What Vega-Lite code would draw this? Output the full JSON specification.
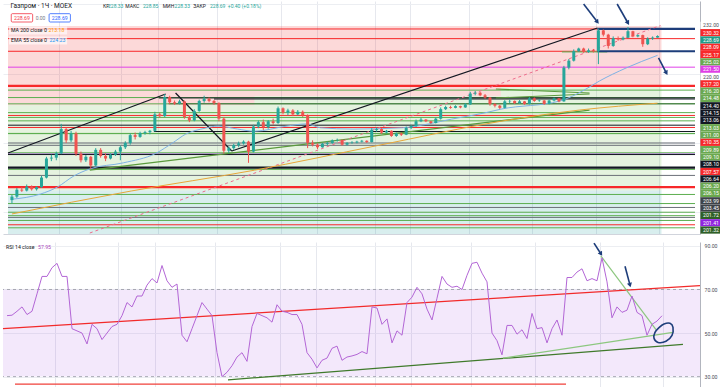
{
"$schema": "https://vega.github.io/schema/vega-lite/v6.json",
"padding": 0,
"background": "white",
"config": {"view": {"stroke": null}, "font": "Roboto"},
"spacing": 3,
"resolve": {"scale": {"color": "independent", "fill": "independent"}},
"datasets": {
"bars": [
{"i":0,"o":190.8,"h":192.0,"l":190.0,"c":191.6,"r":58},
{"i":1,"o":191.6,"h":193.6,"l":191.3,"c":193.2,"r":58.2},
{"i":2,"o":193.2,"h":193.8,"l":192.7,"c":193.0,"r":60},
{"i":3,"o":193.0,"h":194.4,"l":192.8,"c":193.9,"r":62},
{"i":4,"o":193.9,"h":194.2,"l":193.0,"c":193.3,"r":58.5},
{"i":5,"o":193.3,"h":194.0,"l":193.0,"c":193.8,"r":60},
{"i":6,"o":193.8,"h":196.4,"l":193.6,"c":196.0,"r":68},
{"i":7,"o":196.0,"h":200.8,"l":195.8,"c":200.4,"r":76},
{"i":8,"o":200.4,"h":201.3,"l":199.8,"c":200.6,"r":76},
{"i":9,"o":200.6,"h":202.0,"l":200.0,"c":201.6,"r":80},
{"i":10,"o":201.6,"h":208.4,"l":201.4,"c":207.2,"r":82},
{"i":11,"o":207.2,"h":207.6,"l":204.0,"c":204.6,"r":76},
{"i":12,"o":204.6,"h":206.8,"l":204.2,"c":206.2,"r":76},
{"i":13,"o":206.2,"h":206.6,"l":201.0,"c":201.5,"r":52},
{"i":14,"o":201.5,"h":202.0,"l":199.5,"c":200.0,"r":51},
{"i":15,"o":200.0,"h":201.2,"l":199.6,"c":200.8,"r":50},
{"i":16,"o":200.8,"h":201.0,"l":198.0,"c":198.8,"r":45},
{"i":17,"o":198.8,"h":202.8,"l":198.6,"c":202.4,"r":54},
{"i":18,"o":202.4,"h":202.8,"l":200.6,"c":201.0,"r":52},
{"i":19,"o":201.0,"h":201.6,"l":199.8,"c":200.4,"r":47},
{"i":20,"o":200.4,"h":201.6,"l":200.2,"c":201.3,"r":50},
{"i":21,"o":201.3,"h":202.4,"l":201.0,"c":202.0,"r":53},
{"i":22,"o":202.0,"h":203.4,"l":200.0,"c":203.0,"r":54},
{"i":23,"o":203.0,"h":204.4,"l":202.6,"c":204.0,"r":58},
{"i":24,"o":204.0,"h":206.2,"l":203.6,"c":205.8,"r":64},
{"i":25,"o":205.8,"h":206.4,"l":204.8,"c":205.4,"r":62},
{"i":26,"o":205.4,"h":206.6,"l":205.2,"c":206.3,"r":67},
{"i":27,"o":206.3,"h":206.8,"l":205.9,"c":206.5,"r":67},
{"i":28,"o":206.5,"h":207.0,"l":206.0,"c":206.8,"r":72},
{"i":29,"o":206.8,"h":211.2,"l":206.6,"c":210.6,"r":75},
{"i":30,"o":210.6,"h":211.0,"l":209.8,"c":210.2,"r":73},
{"i":31,"o":210.2,"h":215.3,"l":210.0,"c":214.6,"r":81},
{"i":32,"o":214.6,"h":214.9,"l":213.0,"c":213.4,"r":74},
{"i":33,"o":213.4,"h":213.8,"l":212.8,"c":213.1,"r":71},
{"i":34,"o":213.1,"h":214.0,"l":212.9,"c":213.6,"r":72.5},
{"i":35,"o":213.6,"h":213.8,"l":209.6,"c":210.0,"r":49},
{"i":36,"o":210.0,"h":210.4,"l":208.8,"c":209.2,"r":46},
{"i":37,"o":209.2,"h":211.8,"l":209.0,"c":211.4,"r":52},
{"i":38,"o":211.4,"h":214.0,"l":211.2,"c":213.7,"r":58},
{"i":39,"o":213.7,"h":214.9,"l":213.3,"c":214.2,"r":64},
{"i":40,"o":214.2,"h":214.5,"l":213.4,"c":213.7,"r":61},
{"i":41,"o":213.7,"h":213.9,"l":212.8,"c":213.2,"r":58},
{"i":42,"o":213.2,"h":213.4,"l":209.0,"c":209.6,"r":41},
{"i":43,"o":209.6,"h":210.0,"l":201.6,"c":202.2,"r":30},
{"i":44,"o":202.2,"h":203.2,"l":201.6,"c":202.8,"r":32},
{"i":45,"o":202.8,"h":203.8,"l":202.4,"c":203.5,"r":35},
{"i":46,"o":203.5,"h":204.3,"l":203.0,"c":203.9,"r":39},
{"i":47,"o":203.9,"h":204.6,"l":203.6,"c":204.3,"r":41},
{"i":48,"o":204.3,"h":204.5,"l":199.4,"c":202.0,"r":37},
{"i":49,"o":202.0,"h":208.2,"l":201.8,"c":207.8,"r":53},
{"i":50,"o":207.8,"h":209.2,"l":207.4,"c":208.8,"r":59},
{"i":51,"o":208.8,"h":209.4,"l":207.0,"c":207.6,"r":58},
{"i":52,"o":207.6,"h":209.3,"l":207.3,"c":209.0,"r":57},
{"i":53,"o":209.0,"h":209.6,"l":208.2,"c":208.6,"r":55},
{"i":54,"o":208.6,"h":212.4,"l":208.4,"c":212.0,"r":63},
{"i":55,"o":212.0,"h":212.2,"l":210.6,"c":211.0,"r":60},
{"i":56,"o":211.0,"h":211.9,"l":210.4,"c":211.5,"r":59.5},
{"i":57,"o":211.5,"h":211.8,"l":210.2,"c":210.6,"r":58.5},
{"i":58,"o":210.6,"h":211.6,"l":210.4,"c":211.2,"r":58.5},
{"i":59,"o":211.2,"h":211.5,"l":210.0,"c":210.4,"r":54},
{"i":60,"o":210.4,"h":210.6,"l":202.8,"c":204.0,"r":41},
{"i":61,"o":204.0,"h":204.6,"l":203.2,"c":203.6,"r":38},
{"i":62,"o":203.6,"h":203.9,"l":202.6,"c":203.0,"r":34},
{"i":63,"o":203.0,"h":204.0,"l":202.9,"c":203.8,"r":37.5},
{"i":64,"o":203.8,"h":204.3,"l":203.5,"c":204.0,"r":38.5},
{"i":65,"o":204.0,"h":204.8,"l":203.8,"c":204.6,"r":43},
{"i":66,"o":204.6,"h":205.0,"l":204.3,"c":204.7,"r":44},
{"i":67,"o":204.7,"h":204.8,"l":203.4,"c":203.6,"r":37.5},
{"i":68,"o":203.6,"h":204.2,"l":203.4,"c":204.0,"r":39},
{"i":69,"o":204.0,"h":204.4,"l":203.8,"c":204.1,"r":39.5},
{"i":70,"o":204.1,"h":204.5,"l":203.9,"c":204.3,"r":40.2},
{"i":71,"o":204.3,"h":204.7,"l":204.1,"c":204.5,"r":41.5},
{"i":72,"o":204.5,"h":204.6,"l":204.0,"c":204.2,"r":40.5},
{"i":73,"o":204.2,"h":207.4,"l":204.1,"c":207.0,"r":62},
{"i":74,"o":207.0,"h":207.6,"l":206.6,"c":207.2,"r":61.5},
{"i":75,"o":207.2,"h":207.4,"l":206.1,"c":206.4,"r":54},
{"i":76,"o":206.4,"h":207.0,"l":206.2,"c":206.8,"r":56.5},
{"i":77,"o":206.8,"h":206.9,"l":205.4,"c":205.6,"r":45.5},
{"i":78,"o":205.6,"h":206.4,"l":205.4,"c":206.2,"r":51},
{"i":79,"o":206.2,"h":206.4,"l":205.6,"c":205.9,"r":49},
{"i":80,"o":205.9,"h":207.8,"l":205.8,"c":207.5,"r":64},
{"i":81,"o":207.5,"h":208.2,"l":207.2,"c":207.9,"r":66.5},
{"i":82,"o":207.9,"h":209.4,"l":207.7,"c":209.0,"r":71},
{"i":83,"o":209.0,"h":209.8,"l":208.8,"c":209.4,"r":68},
{"i":84,"o":209.4,"h":209.5,"l":208.8,"c":209.0,"r":61},
{"i":85,"o":209.0,"h":209.1,"l":208.4,"c":208.6,"r":56},
{"i":86,"o":208.6,"h":209.9,"l":208.5,"c":209.6,"r":66},
{"i":87,"o":209.6,"h":212.2,"l":209.4,"c":211.8,"r":76},
{"i":88,"o":211.8,"h":212.6,"l":211.6,"c":212.3,"r":72.5},
{"i":89,"o":212.3,"h":212.6,"l":211.9,"c":212.1,"r":71},
{"i":90,"o":212.1,"h":212.7,"l":212.0,"c":212.5,"r":71.5},
{"i":91,"o":212.5,"h":212.6,"l":212.0,"c":212.2,"r":70},
{"i":92,"o":212.2,"h":213.2,"l":212.1,"c":212.9,"r":76.5},
{"i":93,"o":212.9,"h":215.8,"l":212.8,"c":215.4,"r":82},
{"i":94,"o":215.4,"h":216.0,"l":215.0,"c":215.6,"r":82.5},
{"i":95,"o":215.6,"h":215.8,"l":214.8,"c":215.0,"r":77.5},
{"i":96,"o":215.0,"h":215.3,"l":214.2,"c":214.5,"r":73.5},
{"i":97,"o":214.5,"h":214.6,"l":212.6,"c":213.0,"r":50},
{"i":98,"o":213.0,"h":213.2,"l":212.2,"c":212.6,"r":46.5},
{"i":99,"o":212.6,"h":212.8,"l":211.8,"c":212.1,"r":40},
{"i":100,"o":212.1,"h":213.9,"l":212.0,"c":213.6,"r":53.5},
{"i":101,"o":213.6,"h":214.0,"l":213.2,"c":213.7,"r":53.5},
{"i":102,"o":213.7,"h":213.8,"l":213.0,"c":213.2,"r":49.5},
{"i":103,"o":213.2,"h":213.9,"l":213.0,"c":213.6,"r":51.5},
{"i":104,"o":213.6,"h":213.7,"l":212.8,"c":213.0,"r":47.5},
{"i":105,"o":213.0,"h":214.6,"l":212.9,"c":214.3,"r":59},
{"i":106,"o":214.3,"h":214.5,"l":213.5,"c":213.7,"r":52},
{"i":107,"o":213.7,"h":214.1,"l":213.5,"c":213.8,"r":52.5},
{"i":108,"o":213.8,"h":213.9,"l":212.8,"c":213.0,"r":45.5},
{"i":109,"o":213.0,"h":214.0,"l":212.9,"c":213.8,"r":52},
{"i":110,"o":213.8,"h":214.5,"l":213.6,"c":214.3,"r":56},
{"i":111,"o":214.3,"h":214.4,"l":213.4,"c":213.6,"r":49},
{"i":112,"o":213.6,"h":221.8,"l":213.5,"c":221.4,"r":75.5},
{"i":113,"o":221.4,"h":223.4,"l":221.0,"c":223.0,"r":75.5},
{"i":114,"o":223.0,"h":225.6,"l":222.8,"c":225.2,"r":78},
{"i":115,"o":225.2,"h":226.0,"l":225.0,"c":225.8,"r":79.5},
{"i":116,"o":225.8,"h":226.0,"l":224.8,"c":225.0,"r":74},
{"i":117,"o":225.0,"h":225.8,"l":224.8,"c":225.4,"r":75},
{"i":118,"o":225.4,"h":225.7,"l":224.9,"c":225.2,"r":74},
{"i":119,"o":225.2,"h":230.4,"l":222.2,"c":230.0,"r":84.5},
{"i":120,"o":230.0,"h":230.2,"l":228.6,"c":229.0,"r":73.5},
{"i":121,"o":229.0,"h":229.2,"l":225.8,"c":226.4,"r":57},
{"i":122,"o":226.4,"h":228.6,"l":226.2,"c":228.2,"r":62},
{"i":123,"o":228.2,"h":228.6,"l":227.6,"c":227.9,"r":59.5},
{"i":124,"o":227.9,"h":228.6,"l":227.7,"c":228.3,"r":60.5},
{"i":125,"o":228.3,"h":230.8,"l":228.2,"c":229.8,"r":67},
{"i":126,"o":229.8,"h":229.9,"l":228.4,"c":228.6,"r":59.5},
{"i":127,"o":228.6,"h":229.1,"l":228.4,"c":228.9,"r":58},
{"i":128,"o":228.9,"h":229.0,"l":226.2,"c":226.8,"r":49},
{"i":129,"o":226.8,"h":228.4,"l":226.6,"c":228.1,"r":54},
{"i":130,"o":228.1,"h":228.6,"l":227.8,"c":228.33,"r":55.5},
{"i":131,"o":228.33,"h":228.85,"l":228.33,"c":228.69,"r":57.95}
],
"ema": [
{"i":0,"v":191.0},{"i":5.8,"v":192.2},{"i":9.2,"v":193.8},{"i":12.6,"v":196.4},{"i":15.8,"v":198.0},{"i":22.6,"v":199.4},{"i":29.2,"v":201.6},{"i":32.6,"v":204.0},{"i":35.2,"v":206.0},{"i":39.2,"v":207.4},{"i":41.8,"v":207.9},{"i":45.8,"v":207.2},{"i":49.2,"v":206.7},{"i":55.8,"v":207.9},{"i":59.8,"v":208.4},{"i":62.6,"v":207.5},{"i":69.2,"v":207.2},{"i":79.2,"v":207.5},{"i":84.6,"v":208.4},{"i":89.2,"v":209.5},{"i":95.8,"v":210.9},{"i":99.2,"v":211.8},{"i":111.2,"v":213.7},{"i":115.8,"v":216.0},{"i":119.2,"v":218.3},{"i":124.6,"v":221.3},{"i":131,"v":224.23}
],
"ma": [
{"i":0,"v":187.6},{"i":24.2,"v":192.9},{"i":49.2,"v":197.7},{"i":74.2,"v":203.4},{"i":99.2,"v":209.0},{"i":115.2,"v":211.6},{"i":131,"v":213.18}
],
"bands": [
{"a":-0.8,"b":131.8,"lo":217.2,"hi":231.0,"z":"pink"},
{"a":-0.8,"b":49.2,"lo":212.7,"hi":217.2,"z":"pink"},
{"a":49.2,"b":99.2,"lo":214.8,"hi":217.2,"z":"pink"},
{"a":-0.8,"b":49.2,"lo":193.0,"hi":212.7,"z":"green"},
{"a":49.2,"b":99.2,"lo":193.0,"hi":214.8,"z":"green"},
{"a":99.2,"b":131.8,"lo":193.0,"hi":217.2,"z":"green"},
{"a":-0.8,"b":131.8,"lo":182.97,"hi":193.0,"z":"cyan"}
],
"levels": [
{"p":230.32,"k":"red","a":-0.8,"b":118.8},
{"p":230.32,"k":"navy","a":118.8,"b":138.6},
{"p":228.09,"k":"red","a":-0.8,"b":138.6},
{"p":225.17,"k":"red","a":-0.8,"b":118.8},
{"p":225.17,"k":"navy","a":118.8,"b":138.6},
{"p":225.02,"k":"green","a":111.6,"b":120.8},
{"p":221.5,"k":"magenta","a":-0.8,"b":138.6},
{"p":217.2,"k":"redthick","a":-0.8,"b":138.6},
{"p":216.2,"k":"green","a":-0.8,"b":138.6},
{"p":214.48,"k":"green","a":-0.8,"b":138.6},
{"p":214.4,"k":"black","a":29.8,"b":138.6},
{"p":214.15,"k":"black","a":41.0,"b":138.6},
{"p":213.06,"k":"black","a":31.8,"b":138.6},
{"p":213.03,"k":"green","a":-0.8,"b":138.6},
{"p":211.0,"k":"green","a":-0.8,"b":138.6},
{"p":210.35,"k":"red","a":-0.8,"b":138.6},
{"p":209.89,"k":"green","a":-0.8,"b":138.6},
{"p":209.1,"k":"green","a":-0.8,"b":138.6},
{"p":208.1,"k":"black","a":-0.8,"b":138.6},
{"p":207.57,"k":"red","a":-0.8,"b":138.6},
{"p":206.64,"k":"black","a":28.8,"b":138.6},
{"p":206.2,"k":"green","a":-0.8,"b":138.6},
{"p":206.15,"k":"green","a":-0.8,"b":138.6},
{"p":203.99,"k":"gray","a":-0.8,"b":138.6},
{"p":203.45,"k":"gray","a":-0.8,"b":138.6},
{"p":201.72,"k":"green","a":-0.8,"b":138.6},
{"p":201.41,"k":"purple","a":-0.8,"b":138.6},
{"p":201.32,"k":"black","a":-0.8,"b":138.6},
{"p":198.3,"k":"blackthick","a":-0.8,"b":138.6},
{"p":197.9,"k":"green","a":-0.8,"b":138.6},
{"p":196.5,"k":"gray","a":-0.8,"b":138.6},
{"p":193.8,"k":"redthick","a":-0.8,"b":138.6},
{"p":192.1,"k":"green","a":-0.8,"b":138.6},
{"p":190.0,"k":"green","a":-0.8,"b":138.6},
{"p":189.1,"k":"gray","a":-0.8,"b":138.6},
{"p":188.0,"k":"green","a":-0.8,"b":138.6},
{"p":187.2,"k":"green","a":-0.8,"b":138.6},
{"p":186.8,"k":"gray","a":-0.8,"b":138.6},
{"p":186.1,"k":"green","a":-0.8,"b":138.6},
{"p":185.1,"k":"red","a":-0.8,"b":138.6},
{"p":184.4,"k":"green","a":-0.8,"b":138.6}
],
"trends": [
{"id":"b1","k":"black","i":-0.8,"p":201.68},{"id":"b1","k":"black","i":31.2,"p":215.3},
{"id":"b2","k":"black","i":33.2,"p":215.53},{"id":"b2","k":"black","i":44.6,"p":202.14},
{"id":"b3","k":"black","i":44.6,"p":202.14},{"id":"b3","k":"black","i":118.8,"p":230.54},
{"id":"g1","k":"olive","i":15.8,"p":197.74},{"id":"g1","k":"olive","i":117.2,"p":211.6},
{"id":"g2","k":"olive","i":98.2,"p":216.46},{"id":"g2","k":"olive","i":117.2,"p":215.53},
{"id":"g3","k":"olive","i":98.2,"p":214.38},{"id":"g3","k":"olive","i":117.2,"p":215.3}
],
"dash": [{"i":15.8,"p":183.2},{"i":131.6,"p":231.12}],
"arrows": [
{"id":"a1","i":116,"p":236.09},{"id":"a1","i":118.8,"p":231.93},
{"id":"a2","i":122.8,"p":236.09},{"id":"a2","i":125,"p":231.7},
{"id":"a3","i":131.2,"p":223.62},{"id":"a3","i":132.8,"p":220.15}
],
"labels": [
{"label":"232.00","kind":"axis"},{"label":"230.32","kind":"red"},{"label":"228.69","kind":"teal"},{"label":"228.09","kind":"red"},{"label":"225.17","kind":"red"},{"label":"225.02","kind":"green"},{"label":"221.50","kind":"magenta"},{"label":"220.00","kind":"axis"},{"label":"217.20","kind":"red"},{"label":"216.20","kind":"green"},{"label":"214.48","kind":"green"},{"label":"214.40","kind":"black"},{"label":"214.15","kind":"black"},{"label":"213.06","kind":"black"},{"label":"213.03","kind":"green"},{"label":"211.00","kind":"green"},{"label":"210.35","kind":"red"},{"label":"209.89","kind":"green"},{"label":"209.10","kind":"green"},{"label":"208.10","kind":"black"},{"label":"207.57","kind":"red"},{"label":"206.64","kind":"black"},{"label":"206.20","kind":"green"},{"label":"206.15","kind":"green"},{"label":"203.99","kind":"darkgray"},{"label":"203.45","kind":"darkgray"},{"label":"201.72","kind":"darkgreen"},{"label":"201.41","kind":"purple"},{"label":"201.32","kind":"darkgreen"}
],
"rsiband": [{"lo":30,"hi":70}],
"rsilev": [{"v":70},{"v":30}],
"rsitr": [
{"id":"red","i":-0.8,"r":52.0},{"id":"red","i":138.6,"r":71.8},
{"id":"dg","i":44.2,"r":28.5},{"id":"dg","i":135.2,"r":44.8},
{"id":"lg","i":99.2,"r":38.5},{"id":"lg","i":133.2,"r":50.3},
{"id":"lg2","i":118.8,"r":85.3},{"id":"lg2","i":129.8,"r":51.6},
{"id":"rb","i":1.6,"r":26.6},{"id":"rb","i":111.8,"r":26.6}
],
"rsiarrows": [
{"id":"r1","i":117.4,"r":91.3},{"id":"r1","i":118.8,"r":86.3},
{"id":"r2","i":123.6,"r":80.7},{"id":"r2","i":124.6,"r":72.0}
],
"ellipse": [
{"k":0,"i":130.4,"r":52.5},{"k":1,"i":131.4,"r":54.2},{"k":2,"i":132.6,"r":54.5},{"k":3,"i":133.2,"r":52.6},{"k":4,"i":133.0,"r":48.9},{"k":5,"i":131.8,"r":46.2},{"k":6,"i":130.2,"r":45.7},{"k":7,"i":129.4,"r":47.6},{"k":8,"i":129.6,"r":50.3}
]
},
"vconcat": [
{
"spacing": 0,
"resolve": {"scale": {"color": "independent", "fill": "independent"}},
"hconcat": [
{
"width": 697,
"height": 233,
"layer": [
{"data": {"name": "bands"}, "mark": {"type": "rect", "fillOpacity": 0.2},
 "encoding": {
  "x": {"field": "a", "type": "quantitative", "scale": {"domain": [-0.8, 138.6], "nice": false, "zero": false},
        "axis": {"orient": "bottom", "title": null, "labels": false, "ticks": false, "domain": true, "domainColor": "#d1d4dc", "grid": true, "gridColor": "#e6e8ee", "values": [9.6, 22.2, 29.6, 41.6, 54.6, 61.8, 73.6, 80.8, 92.8, 105.6, 118.6, 131.2]}},
  "x2": {"field": "b"},
  "y": {"field": "lo", "type": "quantitative", "scale": {"domain": [182.97, 236.78], "nice": false, "zero": false},
        "axis": {"orient": "right", "title": null, "labels": false, "ticks": false, "domain": true, "domainColor": "#b2b5be", "grid": true, "gridColor": "#eceef2", "values": [188, 192, 196, 200, 204, 208, 212, 216, 220, 224, 228, 232, 236]}},
  "y2": {"field": "hi"},
  "fill": {"field": "z", "type": "nominal", "scale": {"domain": ["pink", "green", "cyan"], "range": ["#f04141", "#7dc35f", "#3caaaa"]}, "legend": null}
 }},
{"data": {"name": "levels"}, "transform": [{"filter": "indexof(['redthick','navy','blackthick'], datum.k) < 0"}],
 "mark": {"type": "rule", "strokeWidth": 1},
 "encoding": {
  "x": {"field": "a", "type": "quantitative"}, "x2": {"field": "b"},
  "y": {"field": "p", "type": "quantitative"},
  "color": {"field": "k", "type": "nominal", "scale": {"domain": ["red","redthick","navy","green","olive","magenta","black","blackthick","gray","purple"], "range": ["#f7282a","#f7282a","#1d3d7a","#5cae4f","#5a9a3c","#e040e8","#131722","#131722","#6b6f78","#9124e0"]}, "legend": null}
 }},
{"data": {"name": "levels"}, "transform": [{"filter": "indexof(['redthick','navy','blackthick'], datum.k) >= 0"}],
 "mark": {"type": "rule", "strokeWidth": 2.2},
 "encoding": {
  "x": {"field": "a", "type": "quantitative"}, "x2": {"field": "b"},
  "y": {"field": "p", "type": "quantitative"},
  "color": {"field": "k", "type": "nominal", "legend": null}
 }},
{"data": {"name": "trends"}, "mark": {"type": "line", "strokeWidth": 1.2},
 "encoding": {
  "x": {"field": "i", "type": "quantitative"}, "y": {"field": "p", "type": "quantitative"},
  "detail": {"field": "id"},
  "color": {"field": "k", "type": "nominal", "legend": null}
 }},
{"data": {"name": "dash"}, "mark": {"type": "line", "strokeDash": [3, 3], "color": "#ee6b8b", "strokeWidth": 1},
 "encoding": {"x": {"field": "i", "type": "quantitative"}, "y": {"field": "p", "type": "quantitative"}}},
{"data": {"name": "ma"}, "mark": {"type": "line", "color": "#e8a73a", "strokeWidth": 1, "interpolate": "monotone"},
 "encoding": {"x": {"field": "i", "type": "quantitative"}, "y": {"field": "v", "type": "quantitative"}}},
{"data": {"name": "ema"}, "mark": {"type": "line", "color": "#7fb2e5", "strokeWidth": 1, "interpolate": "monotone"},
 "encoding": {"x": {"field": "i", "type": "quantitative"}, "y": {"field": "v", "type": "quantitative"}}},
{"data": {"name": "bars"}, "mark": {"type": "rule", "strokeWidth": 1},
 "encoding": {
  "x": {"field": "i", "type": "quantitative"}, "y": {"field": "l", "type": "quantitative"}, "y2": {"field": "h"},
  "color": {"condition": {"test": "datum.c >= datum.o", "value": "#26a69a"}, "value": "#ef5350"}
 }},
{"data": {"name": "bars"}, "mark": {"type": "bar", "width": 3},
 "encoding": {
  "x": {"field": "i", "type": "quantitative"}, "y": {"field": "o", "type": "quantitative"}, "y2": {"field": "c"},
  "color": {"condition": {"test": "datum.c >= datum.o", "value": "#26a69a"}, "value": "#ef5350"}
 }},
{"data": {"name": "arrows"}, "mark": {"type": "line", "color": "#1d3d7a", "strokeWidth": 1.6},
 "encoding": {"x": {"field": "i", "type": "quantitative"}, "y": {"field": "p", "type": "quantitative"}, "detail": {"field": "id"}}},
{"data": {"values": [{"i": 118.8, "p": 231.93}]}, "mark": {"type": "point", "shape": "triangle-up", "filled": true, "size": 26, "angle": 142, "color": "#1d3d7a", "opacity": 1},
 "encoding": {"x": {"field": "i", "type": "quantitative"}, "y": {"field": "p", "type": "quantitative"}}},
{"data": {"values": [{"i": 125, "p": 231.7}]}, "mark": {"type": "point", "shape": "triangle-up", "filled": true, "size": 26, "angle": 150, "color": "#1d3d7a", "opacity": 1},
 "encoding": {"x": {"field": "i", "type": "quantitative"}, "y": {"field": "p", "type": "quantitative"}}},
{"data": {"values": [{"i": 132.8, "p": 220.15}]}, "mark": {"type": "point", "shape": "triangle-up", "filled": true, "size": 26, "angle": 152, "color": "#1d3d7a", "opacity": 1},
 "encoding": {"x": {"field": "i", "type": "quantitative"}, "y": {"field": "p", "type": "quantitative"}}},
{"data": {"values": [{"t": "x"}]}, "mark": {"type": "rect", "fill": "white", "opacity": 0.6},
 "encoding": {"x": {"datum": -0.6}, "x2": {"datum": 11.2}, "y": {"datum": 230.89}, "y2": {"datum": 229.04}}},
{"data": {"values": [{"t": "x"}]}, "mark": {"type": "rect", "fill": "white", "opacity": 0.6},
 "encoding": {"x": {"datum": -0.6}, "x2": {"datum": 11.2}, "y": {"datum": 228.58}, "y2": {"datum": 226.73}}},
{"data": {"values": [{"t": "x"}]}, "mark": {"type": "rect", "fill": "white", "stroke": "#f23645", "strokeWidth": 0.8, "cornerRadius": 1},
 "encoding": {"x": {"datum": -0.14}, "x2": {"datum": 4.2}, "y": {"datum": 233.85}, "y2": {"datum": 231.93}}},
{"data": {"values": [{"t": "x"}]}, "mark": {"type": "rect", "fill": "white", "stroke": "#2962ff", "strokeWidth": 0.8, "cornerRadius": 1},
 "encoding": {"x": {"datum": 7.54}, "x2": {"datum": 11.86}, "y": {"datum": 233.85}, "y2": {"datum": 231.93}}},
{"data": {"values": [{"t": "Газпром · 1Ч · MOEX"}]}, "mark": {"type": "text", "align": "left", "baseline": "middle", "fontSize": 6.5, "color": "#131722"},
 "encoding": {"x": {"datum": -0.3}, "y": {"datum": 235.63}, "text": {"field": "t"}}},
{"data": {"values": [{"t": "КР"}]}, "mark": {"type": "text", "align": "left", "baseline": "middle", "fontSize": 5, "color": "#131722"},
 "encoding": {"x": {"datum": 18.5}, "y": {"datum": 235.63}, "text": {"field": "t"}}},
{"data": {"values": [{"t": "228.33"}]}, "mark": {"type": "text", "align": "left", "baseline": "middle", "fontSize": 5, "color": "#26a69a"},
 "encoding": {"x": {"datum": 19.5}, "y": {"datum": 235.63}, "text": {"field": "t"}}},
{"data": {"values": [{"t": "МАКС"}]}, "mark": {"type": "text", "align": "left", "baseline": "middle", "fontSize": 5, "color": "#131722"},
 "encoding": {"x": {"datum": 23.0}, "y": {"datum": 235.63}, "text": {"field": "t"}}},
{"data": {"values": [{"t": "228.85"}]}, "mark": {"type": "text", "align": "left", "baseline": "middle", "fontSize": 5, "color": "#26a69a"},
 "encoding": {"x": {"datum": 26.6}, "y": {"datum": 235.63}, "text": {"field": "t"}}},
{"data": {"values": [{"t": "МИН"}]}, "mark": {"type": "text", "align": "left", "baseline": "middle", "fontSize": 5, "color": "#131722"},
 "encoding": {"x": {"datum": 30.6}, "y": {"datum": 235.63}, "text": {"field": "t"}}},
{"data": {"values": [{"t": "228.33"}]}, "mark": {"type": "text", "align": "left", "baseline": "middle", "fontSize": 5, "color": "#26a69a"},
 "encoding": {"x": {"datum": 33.0}, "y": {"datum": 235.63}, "text": {"field": "t"}}},
{"data": {"values": [{"t": "ЗАКР"}]}, "mark": {"type": "text", "align": "left", "baseline": "middle", "fontSize": 5, "color": "#131722"},
 "encoding": {"x": {"datum": 36.8}, "y": {"datum": 235.63}, "text": {"field": "t"}}},
{"data": {"values": [{"t": "228.69"}]}, "mark": {"type": "text", "align": "left", "baseline": "middle", "fontSize": 5, "color": "#26a69a"},
 "encoding": {"x": {"datum": 40.2}, "y": {"datum": 235.63}, "text": {"field": "t"}}},
{"data": {"values": [{"t": "+0.40 (+0.18%)"}]}, "mark": {"type": "text", "align": "left", "baseline": "middle", "fontSize": 5, "color": "#26a69a"},
 "encoding": {"x": {"datum": 43.8}, "y": {"datum": 235.63}, "text": {"field": "t"}}},
{"data": {"values": [{"t": "228.69"}]}, "mark": {"type": "text", "align": "center", "baseline": "middle", "fontSize": 5.2, "color": "#f23645"},
 "encoding": {"x": {"datum": 2.03}, "y": {"datum": 232.89}, "text": {"field": "t"}}},
{"data": {"values": [{"t": "0.00"}]}, "mark": {"type": "text", "align": "center", "baseline": "middle", "fontSize": 5, "color": "#787b86"},
 "encoding": {"x": {"datum": 5.8}, "y": {"datum": 232.89}, "text": {"field": "t"}}},
{"data": {"values": [{"t": "228.69"}]}, "mark": {"type": "text", "align": "center", "baseline": "middle", "fontSize": 5.2, "color": "#2962ff"},
 "encoding": {"x": {"datum": 9.7}, "y": {"datum": 232.89}, "text": {"field": "t"}}},
{"data": {"values": [{"t": "MA 200 close 0"}]}, "mark": {"type": "text", "align": "left", "baseline": "middle", "fontSize": 5.2, "color": "#131722"},
 "encoding": {"x": {"datum": -0.2}, "y": {"datum": 229.97}, "text": {"field": "t"}}},
{"data": {"values": [{"t": "213.18"}]}, "mark": {"type": "text", "align": "left", "baseline": "middle", "fontSize": 5.2, "color": "#ff9800"},
 "encoding": {"x": {"datum": 7.4}, "y": {"datum": 229.97}, "text": {"field": "t"}}},
{"data": {"values": [{"t": "EMA 55 close 0"}]}, "mark": {"type": "text", "align": "left", "baseline": "middle", "fontSize": 5.2, "color": "#131722"},
 "encoding": {"x": {"datum": -0.2}, "y": {"datum": 227.66}, "text": {"field": "t"}}},
{"data": {"values": [{"t": "224.23"}]}, "mark": {"type": "text", "align": "left", "baseline": "middle", "fontSize": 5.2, "color": "#2196f3"},
 "encoding": {"x": {"datum": 7.6}, "y": {"datum": 227.66}, "text": {"field": "t"}}}
]
},
{
"width": 22,
"height": 233,
"data": {"name": "labels"},
"layer": [
{"mark": {"type": "tick", "orient": "horizontal", "thickness": 7.2, "size": 21, "clip": true, "opacity": 1},
 "encoding": {
  "y": {"field": "label", "type": "ordinal", "sort": "descending", "scale": {"type": "point", "range": [20.7, 232.7]}, "axis": null},
  "color": {"field": "kind", "type": "nominal", "scale": {"domain": ["axis","red","teal","green","magenta","black","darkgray","darkgreen","purple"], "range": ["#ffffff","#f7282a","#1f9d88","#6aa84f","#e03ee6","#131722","#3e4349","#2f5f27","#9124e0"]}, "legend": null}
 }},
{"mark": {"type": "text", "fontSize": 5.2, "clip": true, "align": "center", "baseline": "middle"},
 "encoding": {
  "y": {"field": "label", "type": "ordinal", "sort": "descending"},
  "text": {"field": "label"},
  "color": {"condition": {"test": "datum.kind === 'axis'", "value": "#4a4d57"}, "value": "#ffffff"}
 }}
]
}
]
},
{
"width": 697,
"height": 149,
"layer": [
{"data": {"name": "rsiband"}, "mark": {"type": "rect", "fill": "#a040e0", "fillOpacity": 0.12},
 "encoding": {
  "y": {"field": "lo", "type": "quantitative", "scale": {"domain": [23.4, 91.8], "nice": false, "zero": false},
        "axis": {"orient": "right", "title": null, "values": [30, 40, 50, 60, 70, 80, 90], "format": ".2f", "labelFontSize": 5.2, "labelColor": "#4a4d57", "ticks": false, "labelPadding": 4, "domain": true, "domainColor": "#b2b5be", "grid": true, "gridColor": "#eceef2"}},
  "y2": {"field": "hi"}
 }},
{"data": {"name": "rsilev"}, "mark": {"type": "rule", "strokeDash": [3, 3], "color": "#9598a1", "strokeWidth": 0.8},
 "encoding": {"y": {"field": "v", "type": "quantitative"}}},
{"data": {"name": "rsitr"}, "mark": {"type": "line", "strokeWidth": 1.2},
 "encoding": {
  "x": {"field": "i", "type": "quantitative", "scale": {"domain": [-0.8, 138.6], "nice": false, "zero": false},
        "axis": {"orient": "bottom", "title": null, "labels": false, "ticks": false, "domain": true, "domainColor": "#d1d4dc", "grid": true, "gridColor": "#e6e8ee", "values": [9.6, 22.2, 29.6, 41.6, 54.6, 61.8, 73.6, 80.8, 92.8, 105.6, 118.6, 131.2]}},
  "y": {"field": "r", "type": "quantitative"},
  "detail": {"field": "id"},
  "color": {"field": "id", "type": "nominal", "scale": {"domain": ["red","dg","lg","lg2","rb"], "range": ["#f22a2a","#3f7a2b","#8cc77f","#8cc77f","#f0403a"]}, "legend": null}
 }},
{"data": {"name": "bars"}, "mark": {"type": "line", "color": "#b366d6", "strokeWidth": 1},
 "encoding": {"x": {"field": "i", "type": "quantitative"}, "y": {"field": "r", "type": "quantitative"}}},
{"data": {"name": "rsiarrows"}, "mark": {"type": "line", "color": "#1d3d7a", "strokeWidth": 1.6},
 "encoding": {"x": {"field": "i", "type": "quantitative"}, "y": {"field": "r", "type": "quantitative"}, "detail": {"field": "id"}}},
{"data": {"values": [{"i": 118.8, "r": 86.3}]}, "mark": {"type": "point", "shape": "triangle-up", "filled": true, "size": 26, "angle": 148, "color": "#1d3d7a", "opacity": 1},
 "encoding": {"x": {"field": "i", "type": "quantitative"}, "y": {"field": "r", "type": "quantitative"}}},
{"data": {"values": [{"i": 124.6, "r": 72.0}]}, "mark": {"type": "point", "shape": "triangle-up", "filled": true, "size": 26, "angle": 165, "color": "#1d3d7a", "opacity": 1},
 "encoding": {"x": {"field": "i", "type": "quantitative"}, "y": {"field": "r", "type": "quantitative"}}},
{"data": {"name": "ellipse"}, "mark": {"type": "line", "color": "#1d3d7a", "strokeWidth": 1.6, "interpolate": "cardinal-closed"},
 "encoding": {"x": {"field": "i", "type": "quantitative"}, "y": {"field": "r", "type": "quantitative"}, "order": {"field": "k"}}},
{"data": {"values": [{"t": "RSI 14 close"}]}, "mark": {"type": "text", "align": "left", "baseline": "middle", "fontSize": 5.2, "color": "#131722"},
 "encoding": {"x": {"datum": -0.2}, "y": {"datum": 89.5}, "text": {"field": "t"}}},
{"data": {"values": [{"t": "57.95"}]}, "mark": {"type": "text", "align": "left", "baseline": "middle", "fontSize": 5.2, "color": "#ab47bc"},
 "encoding": {"x": {"datum": 6.2}, "y": {"datum": 89.5}, "text": {"field": "t"}}}
]
}
]
}
